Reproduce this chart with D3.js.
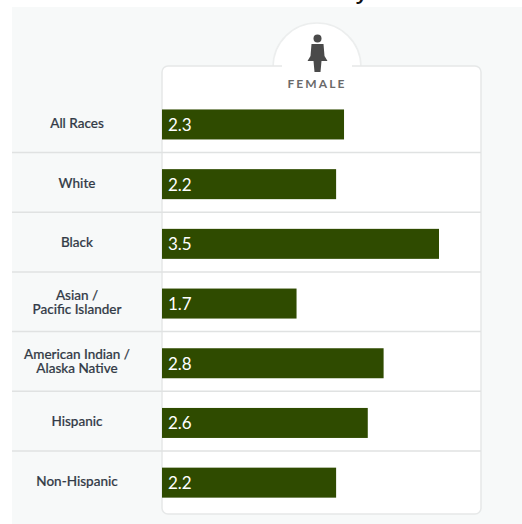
<!DOCTYPE html>
<html><head><meta charset="utf-8">
<script src="https://cdn.jsdelivr.net/npm/d3@7"></script>
<style>html,body{margin:0;padding:0;background:#fff}svg{display:block}</style></head>
<body><svg id="c" width="522" height="524"></svg>
<script>
const categories=[["All Races"],["White"],["Black"],["Asian /","Pacific Islander"],["American Indian /","Alaska Native"],["Hispanic"],["Non-Hispanic"]];
const values=[2.3,2.2,3.5,1.7,2.8,2.6,2.2];
const valueLabels=["2.3","2.2","3.5","1.7","2.8","2.6","2.2"];
const headerLabel="FEMALE";

const svg=d3.select("#c");
const font="Lato, 'Noto Sans', sans-serif";
const x=d3.scaleLinear().domain([0,3.5]).range([162,439]);
const row=d3.scaleBand().domain(d3.range(values.length)).range([92.8,510.7]);

svg.append("rect").attr("x",12).attr("y",7).attr("width",510).attr("height",517).attr("fill","#f7f9f9");

// header bump and card
svg.append("circle").attr("cx",317).attr("cy",67).attr("r",44).attr("fill","#fff").attr("stroke","#eceeee").attr("stroke-width",1.5);
svg.append("rect").attr("x",162).attr("y",66).attr("width",319).attr("height",448).attr("rx",6).attr("fill","#fff").attr("stroke","#e6e8e8").attr("stroke-width",1.5);
svg.append("rect").attr("x",282).attr("y",60).attr("width",70).attr("height",12).attr("fill","#fff");

// person icon
const icon=svg.append("g").attr("fill","#4a4a4a");
icon.append("circle").attr("cx",317.5).attr("cy",38.5).attr("r",4);
icon.append("path").attr("d","M311.5 44 H323.5 L324.5 56 L327.5 61 H321.5 L320.5 72 H314.5 L313.5 61 H307.5 L310.5 56 Z");
svg.append("text").attr("x",317).attr("y",88).attr("text-anchor","middle").attr("font-family",font).attr("font-size",12).attr("font-weight",700).attr("letter-spacing",2.1).attr("fill","#6a6a6a").text(headerLabel);

// separators
svg.append("g").selectAll("line").data(d3.range(1,values.length)).join("line")
 .attr("x1",12).attr("x2",481).attr("y1",i=>row(i)).attr("y2",i=>row(i)).attr("stroke","#e0e2e2").attr("stroke-width",1.5);

// bars
const barH=30;
const cy=i=>row(i)+row.bandwidth()/2+1.8;
svg.append("g").selectAll("rect").data(values).join("rect")
 .attr("x",x(0)).attr("y",(d,i)=>cy(i)-barH/2).attr("width",d=>x(d)-x(0)).attr("height",barH).attr("fill","#2f4b00");
svg.append("g").selectAll("text").data(valueLabels).join("text")
 .attr("x",x(0)+6).attr("y",(d,i)=>cy(i)+6.5).attr("font-family",font).attr("font-size",17).attr("fill","#fff").text(d=>d);

// category labels
const g=svg.append("g").selectAll("text").data(categories).join("text")
 .attr("text-anchor","middle").attr("font-family",font).attr("font-size",13.5).attr("font-weight",500).attr("fill","#333b47").attr("stroke","#333b47").attr("stroke-width",0.2);
g.each(function(lines,i){
  const t=d3.select(this);
  const off=lines.length>1?-4:3.5;
  const base=cy(i)+off;
  lines.forEach((l,k)=>t.append("tspan").attr("x",77).attr("y",base+k*14).text(l));
});

// clipped title descender
svg.append("text").attr("x",362).attr("y",-1).attr("text-anchor","middle").attr("font-family","'Open Sans',sans-serif").attr("font-size",22).attr("font-weight",600).attr("fill","#111").text("y");
</script></body></html>
